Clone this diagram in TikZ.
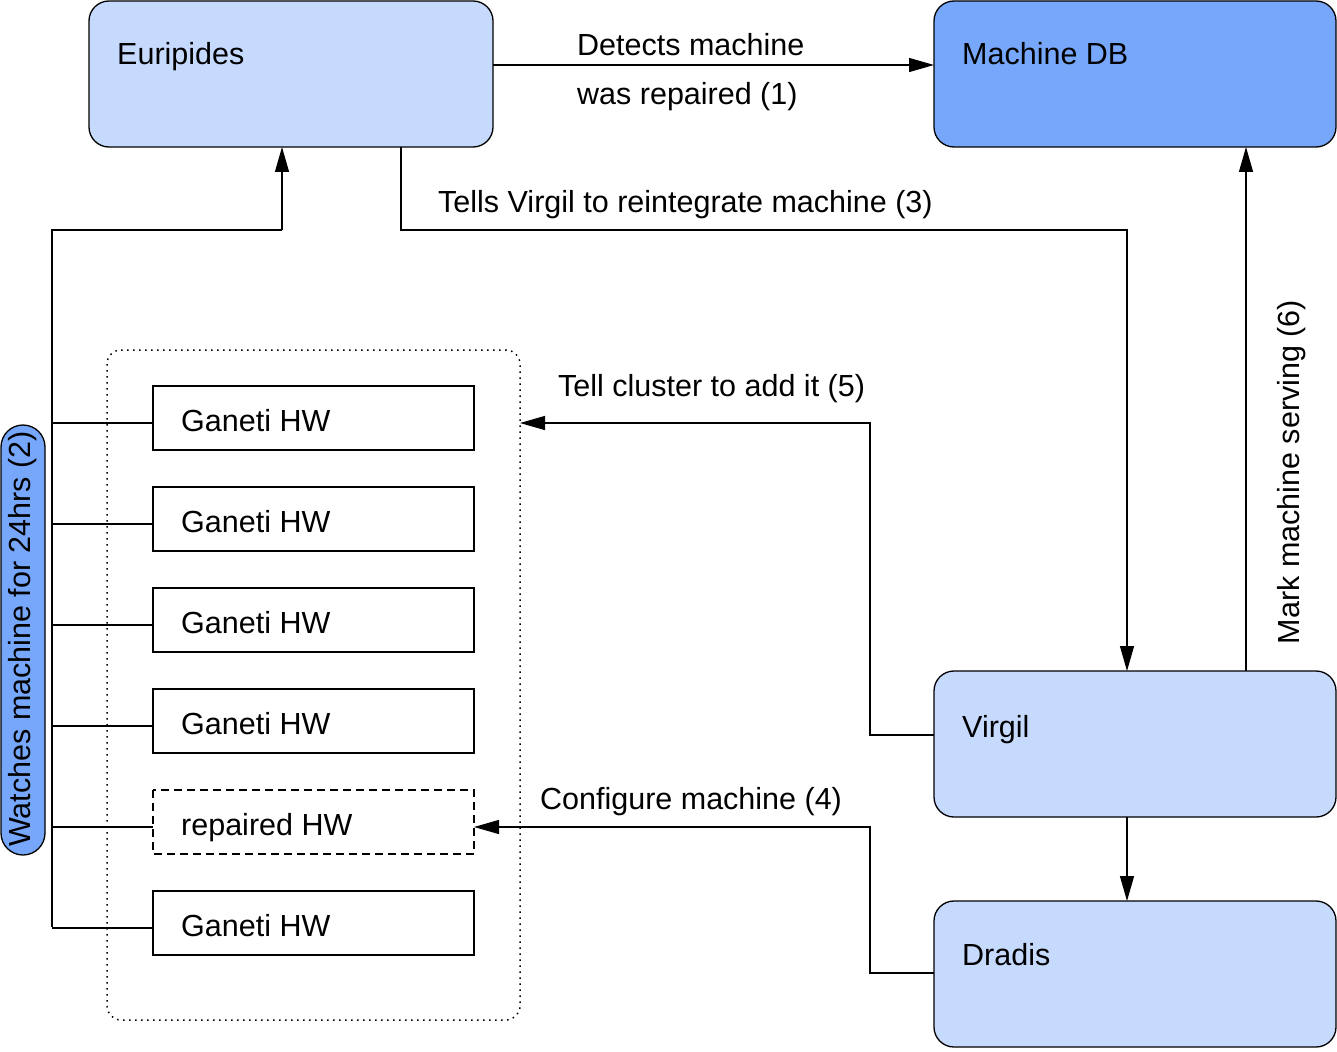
\documentclass[tikz,border=0pt]{standalone}
\usepackage{fontspec}
\setmainfont{Liberation Sans}
\usetikzlibrary{arrows.meta}
\definecolor{lightb}{RGB}{198,218,254}
\definecolor{darkb}{RGB}{118,167,250}
\begin{document}
\begin{tikzpicture}[x=1pt,y=-1pt,
  every node/.style={font=\fontsize{30.5}{33}\selectfont, inner sep=0pt},
  bigbox/.style={draw, line width=1.3pt, rounded corners=20pt, fill=lightb},
  hwbox/.style={draw, line width=1.3pt, fill=white},
  conn/.style={line width=1.3pt},
  arr/.style={conn, -{Triangle[length=25pt,width=14pt]}},
  lbl/.style={anchor=base west}]
\useasboundingbox (0,0) rectangle (1337,1051);
% container
\draw[line width=1.5pt, dash pattern=on 1.5pt off 4.5pt, rounded corners=14pt] (107,350) rectangle (520,1020);
% big boxes
\draw[bigbox] (89,1) rectangle (493,147);
\draw[bigbox, fill=darkb] (934,1) rectangle (1336,147);
\draw[bigbox] (934,671) rectangle (1336,817);
\draw[bigbox] (934,901) rectangle (1336,1047);
\node[lbl] (eurT) at (117,65) {Euripides};
\node[lbl] (mdbT) at (962,65) {Machine DB};
\node[lbl] (virT) at (962,737) {Virgil};
\node[lbl] (draT) at (962,965) {Dradis};
% hw boxes
\foreach \y/\n in {386/h1,487/h2,588/h3,689/h4,891/h6}{
  \draw[hwbox] (153,\y) rectangle (474,\y+64);
  \node[lbl] (\n) at (181,\y+45) {Ganeti HW};
}
\draw[hwbox, dash pattern=on 8pt off 5pt] (153,790) rectangle (474,854);
\node[lbl] (h5) at (181,835) {repaired HW};
% left watcher lines
\draw[conn] (52,927) -- (52,230) -- (282,230);
\draw[arr] (282,230) -- (282,147);
\foreach \y in {423,524,625,726,827,928}{
  \draw[conn] (52,\y) -- (153,\y);
}
% pill
\draw[line width=1.3pt, fill=darkb, rounded corners=22pt] (1,425) rectangle (45,855);
\node[rotate=90] (watch) at (23,639) {Watches machine for 24hrs (2)};
% (1)
\draw[arr] (493,65) -- (934,65);
\node[lbl] (l1a) at (577,56) {Detects machine};
\node[lbl] (l1b) at (577,105) {was repaired (1)};
% (3)
\draw[arr] (401,147) -- (401,230) -- (1127,230) -- (1127,671);
\node[lbl] (l3) at (438,212) {Tells Virgil to reintegrate machine (3)};
% (6)
\draw[arr] (1246,671) -- (1246,147);
\node[rotate=90] (l6) at (1292,472) {Mark machine serving (6)};
% (5)
\draw[arr] (934,735) -- (870,735) -- (870,423) -- (520,423);
\node[lbl] (l5) at (558,396) {Tell cluster to add it (5)};
% virgil -> dradis
\draw[arr] (1127,817) -- (1127,901);
% (4)
\draw[arr] (934,973) -- (870,973) -- (870,827) -- (474,827);
\node[lbl] (l4) at (540,809) {Configure machine (4)};
\end{tikzpicture}
\end{document}
